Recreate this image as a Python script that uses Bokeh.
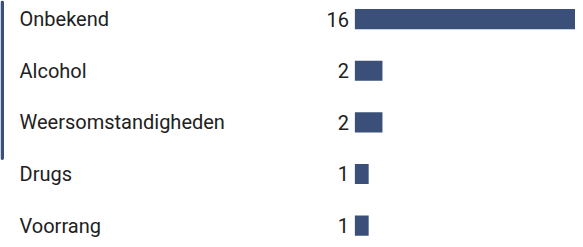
from bokeh.plotting import figure
from bokeh.models import Range1d, BoxAnnotation
from bokeh.embed import file_html
from bokeh.resources import INLINE
from bokeh.core.properties import value

categories = ["Onbekend", "Alcohol", "Weersomstandigheden", "Drugs", "Voorrang"]
counts = [16, 2, 2, 1, 1]
count_labels = [str(c) for c in counts]

W, H = 575, 239
BAR_COLOR = "#3a5078"
TEXT_COLOR = "#212121"

idx = list(range(len(categories)))
x_left = -25.7
x_right = max(counts)
y_top = -0.36
y_bottom = len(categories) - 1 + 0.27

p = figure(width=W, height=H, output_backend="svg", toolbar_location=None,
           x_range=Range1d(x_left, x_right), y_range=Range1d(y_bottom, y_top),
           min_border=0, min_border_left=0, min_border_right=0,
           min_border_top=0, min_border_bottom=0)
p.axis.visible = False
p.grid.visible = False
p.outline_line_color = None
p.background_fill_color = "white"
p.border_fill_color = "white"

src = dict(y=idx, right=counts, cat=categories, lab=count_labels,
           x0=[0] * len(idx), xl=[x_left] * len(idx))

p.hbar(y="y", left="x0", right="right", height=0.39, source=src,
       fill_color=BAR_COLOR, line_color=None)

p.text(x="xl", y="y", text="cat", source=src, x_offset=19,
       text_align="left", text_baseline="middle",
       text_font=value("Roboto"), text_font_size="20px", text_color=TEXT_COLOR)

p.text(x="x0", y="y", text="lab", source=src, x_offset=-6,
       text_align="right", text_baseline="middle",
       text_font=value("Roboto"), text_font_size="20px", text_color=TEXT_COLOR)

# decorative left accent border of the card
px_per_unit = W / (x_right - x_left)
p.add_layout(BoxAnnotation(left=x_left, right=x_left + 3.5 / px_per_unit,
                           top=y_top, bottom=y_top + 3.09,
                           fill_color=BAR_COLOR, fill_alpha=1.0,
                           line_color=None, border_radius=2))

open("out.html", "w").write(file_html(p, INLINE))
